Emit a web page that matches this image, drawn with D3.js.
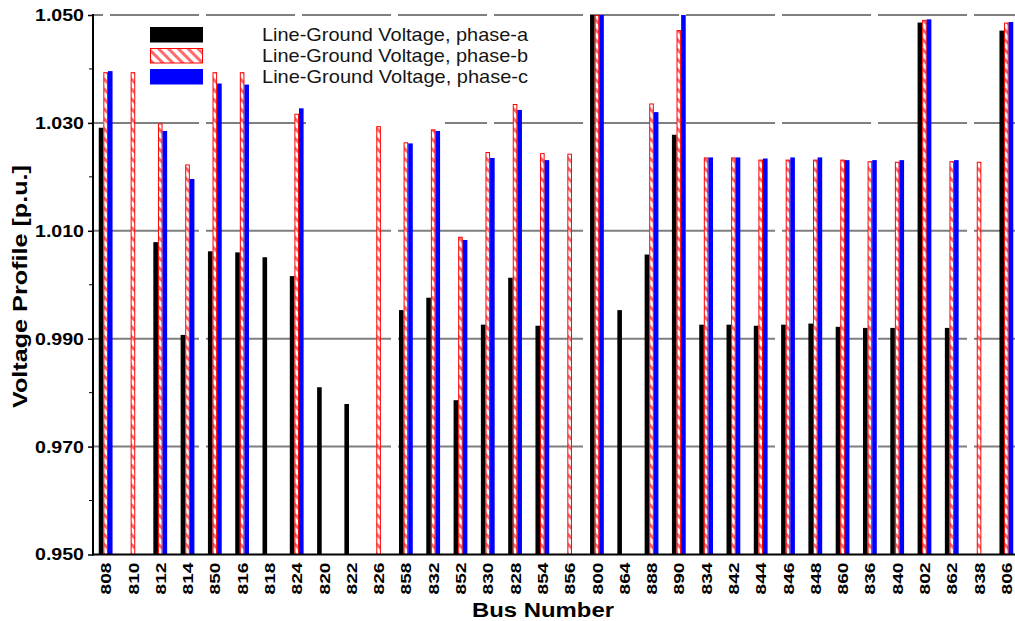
<!DOCTYPE html>
<html>
<head>
<meta charset="utf-8">
<script src="https://cdn.jsdelivr.net/npm/d3@7/dist/d3.min.js"></script>
<style>
  body { margin: 0; background: #fff; }
  svg { display: block; font-family: 'Liberation Sans', Arial, sans-serif; }
</style>
</head>
<body>
<script>
// bus order along the x axis
const buses = ['808', '810', '812', '814', '850', '816', '818', '824', '820', '822', '826', '858',
    '832', '852', '830', '828', '854', '856', '800', '864', '888', '890', '834', '842', '844',
    '846', '848', '860', '836', '840', '802', '862', '838', '806'];

// line-ground voltages in p.u. (null = phase not present at that bus)
const phaseA = [1.0291, null, 1.0079, 0.9907, 1.0062, 1.0060, 1.0051, 1.0016, 0.9810, 0.9779, null, 0.9953,
    0.9976, 0.9786, 0.9926, 1.0013, 0.9924, null, 1.0500, 0.9953, 1.0056, 1.0278, 0.9926, 0.9926, 0.9924,
    0.9926, 0.9928, 0.9922, 0.9920, 0.9920, 1.0486, 0.9920, null, 1.0471];
const phaseB = [1.0394, 1.0394, 1.0299, 1.0223, 1.0394, 1.0394, null, 1.0317, null, null, 1.0294, 1.0264,
    1.0288, 1.0089, 1.0246, 1.0335, 1.0244, 1.0243, 1.0500, null, 1.0336, 1.0472, 1.0236, 1.0236, 1.0232,
    1.0232, 1.0232, 1.0232, 1.0229, 1.0228, 1.0491, 1.0229, 1.0228, 1.0486];
const phaseC = [1.0396, null, 1.0285, 1.0196, 1.0373, 1.0371, null, 1.0327, null, null, null, 1.0262,
    1.0285, 1.0083, 1.0235, 1.0324, 1.0231, null, 1.0500, null, 1.0320, 1.0500, 1.0236, 1.0236, 1.0234,
    1.0236, 1.0236, 1.0231, 1.0231, 1.0231, 1.0492, 1.0231, null, 1.0487];

const yTicks = [0.950, 0.970, 0.990, 1.010, 1.030, 1.050];
const yMinor = [0.960, 0.980, 1.000, 1.020, 1.040];
const seriesNames = ['Line-Ground Voltage, phase-a', 'Line-Ground Voltage, phase-b', 'Line-Ground Voltage, phase-c'];
const phases = ['a', 'b', 'c'];

let width = 1015, height = 621;
let axisX = 93, plotTop = 15, plotBottom = 554.5;

let svg = d3.select('body').append('svg')
    .attr('width', width)
    .attr('height', height);

// hatch pattern for phase-b
let defs = svg.append('defs');
let pat = defs.append('pattern')
    .attr('id', 'hatch')
    .attr('patternUnits', 'userSpaceOnUse')
    .attr('width', 7).attr('height', 7)
    .attr('patternTransform', 'rotate(-45)');
pat.append('rect').attr('width', 7).attr('height', 7).attr('fill', '#fff');
pat.append('rect').attr('width', 3).attr('height', 7).attr('fill', '#ff6b6b');

let rows = buses.map((bus, i) => ({bus: bus, a: phaseA[i], b: phaseB[i], c: phaseC[i]}));

let x0 = d3.scaleBand().domain(buses).range([92, 1020]).padding(0);
let half = x0.bandwidth() / 2;
let x1 = d3.scaleBand().domain(phases).range([half - 6.9, half + 6.9]).padding(0);
let y = d3.scaleLinear().domain([0.95, 1.05]).range([plotBottom, plotTop]);

let fills = {a: '#000', b: 'url(#hatch)', c: '#0000ff'};

// dashed grid
svg.append('g').selectAll('line.grid')
    .data(yTicks.filter(d => d > 0.95))
    .enter().append('line')
    .attr('class', 'grid')
    .attr('x1', axisX).attr('x2', width)
    .attr('y1', d => y(d)).attr('y2', d => y(d))
    .style('stroke', '#7f7f7f')
    .style('stroke-width', 2)
    .style('stroke-dasharray', '89,7')
    .style('stroke-dashoffset', 79);

// the legend box hides part of the 1.030 line
svg.append('rect')
    .attr('x', 306).attr('y', y(1.030) - 4)
    .attr('width', 139).attr('height', 8)
    .attr('fill', '#fff');

// bars
let groups = svg.append('g').selectAll('g.bus')
    .data(rows)
    .enter().append('g')
    .attr('class', 'bus')
    .attr('transform', d => 'translate(' + x0(d.bus) + ',0)');

groups.selectAll('rect')
    .data(d => phases.filter(p => d[p] !== null).map(p => ({p: p, v: d[p]})))
    .enter().append('rect')
    .attr('x', d => x1(d.p) + (d.p === 'b' ? 0.5 : 0))
    .attr('y', d => y(d.v) + (d.p === 'b' ? 0.5 : 0))
    .attr('width', d => x1.bandwidth() - (d.p === 'b' ? 1 : 0))
    .attr('height', d => plotBottom - y(d.v) - (d.p === 'b' ? 0.5 : 0))
    .attr('fill', d => fills[d.p])
    .attr('stroke', d => d.p === 'b' ? '#ff0000' : 'none')
    .attr('stroke-width', 1);

// y axis
let yAxis = svg.append('g')
    .attr('transform', 'translate(' + axisX + ',0)')
    .call(d3.axisLeft(y).tickValues(yTicks).tickFormat(d3.format('.3f')).tickSize(5).tickPadding(4));
yAxis.select('.domain').remove();
yAxis.selectAll('.tick line').style('stroke', '#000').style('stroke-width', 1.5);
yAxis.selectAll('.tick text')
    .style('font-size', '17px')
    .style('font-weight', 'bold')
    .style('fill', '#000')
    .attr('textLength', 49)
    .attr('lengthAdjust', 'spacingAndGlyphs');

svg.append('g').selectAll('line.minor')
    .data(yMinor)
    .enter().append('line')
    .attr('x1', axisX - 4).attr('x2', axisX)
    .attr('y1', d => y(d)).attr('y2', d => y(d))
    .style('stroke', '#000').style('stroke-width', 1);

svg.append('line')
    .attr('x1', axisX).attr('x2', axisX)
    .attr('y1', plotTop - 1).attr('y2', plotBottom + 1)
    .style('stroke', '#000').style('stroke-width', 2);

// x axis
let xAxis = svg.append('g')
    .attr('transform', 'translate(0,' + plotBottom + ')')
    .call(d3.axisBottom(x0).tickSize(0));
xAxis.select('.domain').remove();
xAxis.selectAll('.tick text')
    .attr('transform', 'rotate(-90)')
    .attr('x', -8).attr('y', 0).attr('dy', '0.36em')
    .style('text-anchor', 'end')
    .style('font-size', '15.5px')
    .style('font-weight', 'bold')
    .style('fill', '#000')
    .attr('textLength', 32)
    .attr('lengthAdjust', 'spacingAndGlyphs');

svg.append('line')
    .attr('x1', axisX - 1).attr('x2', width)
    .attr('y1', plotBottom).attr('y2', plotBottom)
    .style('stroke', '#000').style('stroke-width', 2);

// axis titles
svg.append('text')
    .attr('transform', 'translate(27,286.5) rotate(-90)')
    .attr('text-anchor', 'middle')
    .attr('textLength', 243)
    .attr('lengthAdjust', 'spacingAndGlyphs')
    .style('font-size', '21px')
    .style('font-weight', 'bold')
    .text('Voltage Profile [p.u.]');

svg.append('text')
    .attr('x', 472).attr('y', 617)
    .attr('textLength', 142)
    .attr('lengthAdjust', 'spacingAndGlyphs')
    .style('font-size', '19.5px')
    .style('font-weight', 'bold')
    .text('Bus Number');

// legend
let legend = svg.append('g').selectAll('g.legend')
    .data(phases)
    .enter().append('g')
    .attr('class', 'legend')
    .attr('transform', (d, i) => 'translate(0,' + (i * 21) + ')');

legend.append('rect')
    .attr('x', d => d === 'b' ? 150.5 : 150)
    .attr('y', d => d === 'b' ? 27.5 : 27)
    .attr('width', d => d === 'b' ? 52 : 53)
    .attr('height', d => d === 'b' ? 14.5 : 15.5)
    .attr('fill', d => fills[d])
    .attr('stroke', d => d === 'b' ? '#ff0000' : 'none');

legend.append('text')
    .attr('x', 262).attr('y', 41)
    .attr('textLength', 266)
    .attr('lengthAdjust', 'spacingAndGlyphs')
    .style('font-size', '18.5px')
    .style('fill', '#151515')
    .text((d, i) => seriesNames[i]);
</script>
</body>
</html>
